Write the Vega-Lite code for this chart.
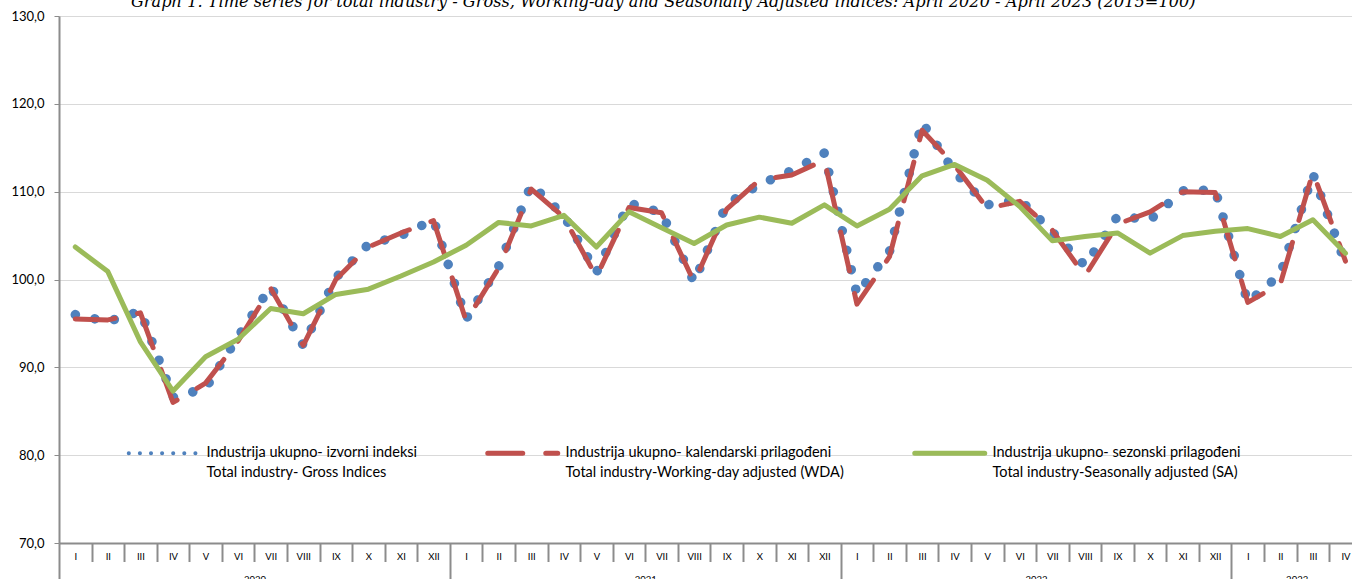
{
  "$schema": "https://vega.github.io/schema/vega-lite/v6.json",
  "autosize": {"type": "none"},
  "padding": {"left": 59, "top": 16, "right": 0, "bottom": 36},
  "width": 1293,
  "height": 527,
  "background": "white",
  "title": {
    "text": "Graph 1. Time series for total industry - Gross, Working-day and Seasonally Adjusted indices: April 2020 - April 2023 (2015=100)",
    "font": "DejaVu Serif", "fontStyle": "italic", "fontWeight": "normal", "fontSize": 16.2, "color": "#000000",
    "anchor": "start", "dx": 120, "dy": 13, "offset": 0, "baseline": "alphabetic"
  },
  "data": {"values": [
    {"i": 0, "mon": "I", "yr": 2020, "gross": 96.0, "wda": 95.5, "sa": 103.7},
    {"i": 1, "mon": "II", "yr": 2020, "gross": 95.2, "wda": 95.4, "sa": 100.9},
    {"i": 2, "mon": "III", "yr": 2020, "gross": 96.4, "wda": 96.2, "sa": 92.9},
    {"i": 3, "mon": "IV", "yr": 2020, "gross": 86.6, "wda": 86.0, "sa": 87.3},
    {"i": 4, "mon": "V", "yr": 2020, "gross": 87.6, "wda": 88.2, "sa": 91.2},
    {"i": 5, "mon": "VI", "yr": 2020, "gross": 93.5, "wda": 93.0, "sa": 93.2},
    {"i": 6, "mon": "VII", "yr": 2020, "gross": 99.2, "wda": 99.0, "sa": 96.7},
    {"i": 7, "mon": "VIII", "yr": 2020, "gross": 92.5, "wda": 92.5, "sa": 96.1},
    {"i": 8, "mon": "IX", "yr": 2020, "gross": 100.2, "wda": 100.0, "sa": 98.3},
    {"i": 9, "mon": "X", "yr": 2020, "gross": 104.0, "wda": 103.7, "sa": 98.9},
    {"i": 10, "mon": "XI", "yr": 2020, "gross": 105.0, "wda": 105.3, "sa": 100.4},
    {"i": 11, "mon": "XII", "yr": 2020, "gross": 106.8, "wda": 106.7, "sa": 102.0},
    {"i": 12, "mon": "I", "yr": 2021, "gross": 95.5, "wda": 95.3, "sa": 103.9},
    {"i": 13, "mon": "II", "yr": 2021, "gross": 101.5, "wda": 101.3, "sa": 106.5},
    {"i": 14, "mon": "III", "yr": 2021, "gross": 110.8, "wda": 110.3, "sa": 106.1},
    {"i": 15, "mon": "IV", "yr": 2021, "gross": 107.3, "wda": 107.1, "sa": 107.3},
    {"i": 16, "mon": "V", "yr": 2021, "gross": 100.8, "wda": 100.3, "sa": 103.7},
    {"i": 17, "mon": "VI", "yr": 2021, "gross": 108.7, "wda": 108.2, "sa": 107.7},
    {"i": 18, "mon": "VII", "yr": 2021, "gross": 107.6, "wda": 107.6, "sa": 105.9},
    {"i": 19, "mon": "VIII", "yr": 2021, "gross": 99.7, "wda": 99.7, "sa": 104.1},
    {"i": 20, "mon": "IX", "yr": 2021, "gross": 108.6, "wda": 108.0, "sa": 106.2},
    {"i": 21, "mon": "X", "yr": 2021, "gross": 110.8, "wda": 111.3, "sa": 107.1},
    {"i": 22, "mon": "XI", "yr": 2021, "gross": 112.4, "wda": 111.9, "sa": 106.4},
    {"i": 23, "mon": "XII", "yr": 2021, "gross": 114.4, "wda": 113.6, "sa": 108.5},
    {"i": 24, "mon": "I", "yr": 2022, "gross": 98.3, "wda": 97.2, "sa": 106.1},
    {"i": 25, "mon": "II", "yr": 2022, "gross": 103.2, "wda": 102.6, "sa": 108.0},
    {"i": 26, "mon": "III", "yr": 2022, "gross": 117.9, "wda": 117.0, "sa": 111.8},
    {"i": 27, "mon": "IV", "yr": 2022, "gross": 112.2, "wda": 113.0, "sa": 113.1},
    {"i": 28, "mon": "V", "yr": 2022, "gross": 108.5, "wda": 108.1, "sa": 111.3},
    {"i": 29, "mon": "VI", "yr": 2022, "gross": 109.1, "wda": 108.9, "sa": 108.3},
    {"i": 30, "mon": "VII", "yr": 2022, "gross": 105.4, "wda": 105.6, "sa": 104.4},
    {"i": 31, "mon": "VIII", "yr": 2022, "gross": 101.6, "wda": 100.4, "sa": 104.9},
    {"i": 32, "mon": "IX", "yr": 2022, "gross": 107.2, "wda": 106.3, "sa": 105.3},
    {"i": 33, "mon": "X", "yr": 2022, "gross": 106.8, "wda": 107.7, "sa": 103.0},
    {"i": 34, "mon": "XI", "yr": 2022, "gross": 110.1, "wda": 110.0, "sa": 105.0},
    {"i": 35, "mon": "XII", "yr": 2022, "gross": 110.2, "wda": 109.9, "sa": 105.5},
    {"i": 36, "mon": "I", "yr": 2023, "gross": 97.4, "wda": 97.4, "sa": 105.8},
    {"i": 37, "mon": "II", "yr": 2023, "gross": 100.6, "wda": 99.5, "sa": 104.9},
    {"i": 38, "mon": "III", "yr": 2023, "gross": 112.0, "wda": 112.2, "sa": 106.8},
    {"i": 39, "mon": "IV", "yr": 2023, "gross": 101.8, "wda": 102.1, "sa": 103.0}
  ]},
  "resolve": {"axis": {"x": "independent"}},
  "layer": [
    {
      "mark": {"type": "line", "strokeWidth": 9.5, "strokeDash": [0.1, 19.9], "strokeCap": "round", "strokeJoin": "round"},
      "encoding": {
        "x": {"field": "i", "type": "quantitative",
          "scale": {"domain": [-0.5, 39.2], "nice": false, "zero": false},
          "axis": {"orient": "bottom", "values": [0,1,2,3,4,5,6,7,8,9,10,11,12,13,14,15,16,17,18,19,20,21,22,23,24,25,26,27,28,29,30,31,32,33,34,35,36,37,38,39],
            "labelExpr": "['I','II','III','IV','V','VI','VII','VIII','IX','X','XI','XII'][datum.value % 12]",
            "ticks": false, "tickSize": 0, "labelPadding": 13, "labelBaseline": "middle", "labelFontSize": 9.5,
            "labelFont": "Lato", "labelColor": "#000000", "labelFlush": false, "labelOverlap": false,
            "domain": true, "domainColor": "#8c8c8c", "domainWidth": 2, "grid": false, "title": null}},
        "y": {"field": "gross", "type": "quantitative",
          "scale": {"domain": [70, 130], "nice": false, "zero": false},
          "axis": {"values": [70, 80, 90, 100, 110, 120, 130],
            "labelExpr": "replace(format(datum.value, '.1f'), '.', ',')",
            "grid": true, "gridColor": "#d9d9d9", "gridWidth": 1, "tickSize": 5, "tickColor": "#8c8c8c", "tickWidth": 1,
            "domainColor": "#8c8c8c", "domainWidth": 2, "labelPadding": 10, "labelFont": "Lato", "labelFontSize": 13,
            "labelColor": "#000000", "labelFlush": false, "labelOverlap": false, "title": null}},
        "color": {"datum": "G", "type": "nominal",
          "scale": {"domain": ["G", "W", "S"], "range": ["#4f81bd", "#c0504d", "#9bbb59"]},
          "legend": {"orient": "none", "legendX": 69, "legendY": 430, "direction": "horizontal", "title": null,
            "symbolType": "stroke", "symbolSize": 4900, "symbolStrokeWidth": 5, "gridAlign": "none",
            "symbolOffset": 28.5, "columnPadding": 59, "labelOffset": 35.5, "labelFont": "Lato", "labelFontSize": 14.5, "labelColor": "#000000",
            "labelLimit": 500, "padding": 0,
            "labelExpr": "datum.value == 'G' ? ['Industrija ukupno- izvorni indeksi', 'Total industry- Gross Indices'] : datum.value == 'W' ? ['Industrija ukupno- kalendarski prilagođeni', 'Total industry-Working-day adjusted (WDA)'] : ['Industrija ukupno- sezonski prilagođeni', 'Total industry-Seasonally adjusted (SA)']",
            "encode": {
              "symbols": {"update": {
                "strokeDash": {"signal": "datum.value == 'G' ? [0.1, 11] : datum.value == 'W' ? [35, 23] : [1, 0]"},
                "strokeWidth": {"signal": "datum.value == 'G' ? 4 : 5"},
                "strokeCap": {"value": "round"}}},
              "labels": {"update": {"lineHeight": {"value": 20}}}
            }}}
      }
    },
    {
      "mark": {"type": "line", "strokeWidth": 5, "strokeDash": [40, 23], "strokeCap": "round", "strokeJoin": "round"},
      "encoding": {
        "x": {"field": "i", "type": "quantitative",
          "axis": {"orient": "bottom", "values": [-0.5,0.5,1.5,2.5,3.5,4.5,5.5,6.5,7.5,8.5,9.5,10.5,11.5,12.5,13.5,14.5,15.5,16.5,17.5,18.5,19.5,20.5,21.5,22.5,23.5,24.5,25.5,26.5,27.5,28.5,29.5,30.5,31.5,32.5,33.5,34.5,35.5,36.5,37.5,38.5],
            "labels": false, "ticks": true,
            "tickSize": {"condition": {"test": "datum.value == -0.5 || datum.value == 11.5 || datum.value == 23.5 || datum.value == 35.5", "value": 37}, "value": 18.5},
            "tickColor": "#8c8c8c", "tickWidth": 2, "domain": false, "grid": false, "title": null}},
        "y": {"field": "wda", "type": "quantitative"},
        "color": {"datum": "W", "type": "nominal"}
      }
    },
    {
      "mark": {"type": "line", "strokeWidth": 5, "strokeCap": "round", "strokeJoin": "round"},
      "encoding": {
        "x": {"field": "i", "type": "quantitative",
          "axis": {"orient": "bottom", "values": [5.5, 17.5, 29.5, 37.5],
            "labelExpr": "datum.value < 12 ? '2020' : datum.value < 24 ? '2021' : datum.value < 36 ? '2022' : '2023'",
            "ticks": false, "tickSize": 0, "labelPadding": 31, "labelBaseline": "top", "labelFontSize": 9.5,
            "labelFont": "Lato", "labelColor": "#000000", "labelFlush": false, "labelOverlap": false,
            "domain": false, "grid": false, "title": null}},
        "y": {"field": "sa", "type": "quantitative"},
        "color": {"datum": "S", "type": "nominal"}
      }
    }
  ],
  "config": {"view": {"stroke": null}}
}
